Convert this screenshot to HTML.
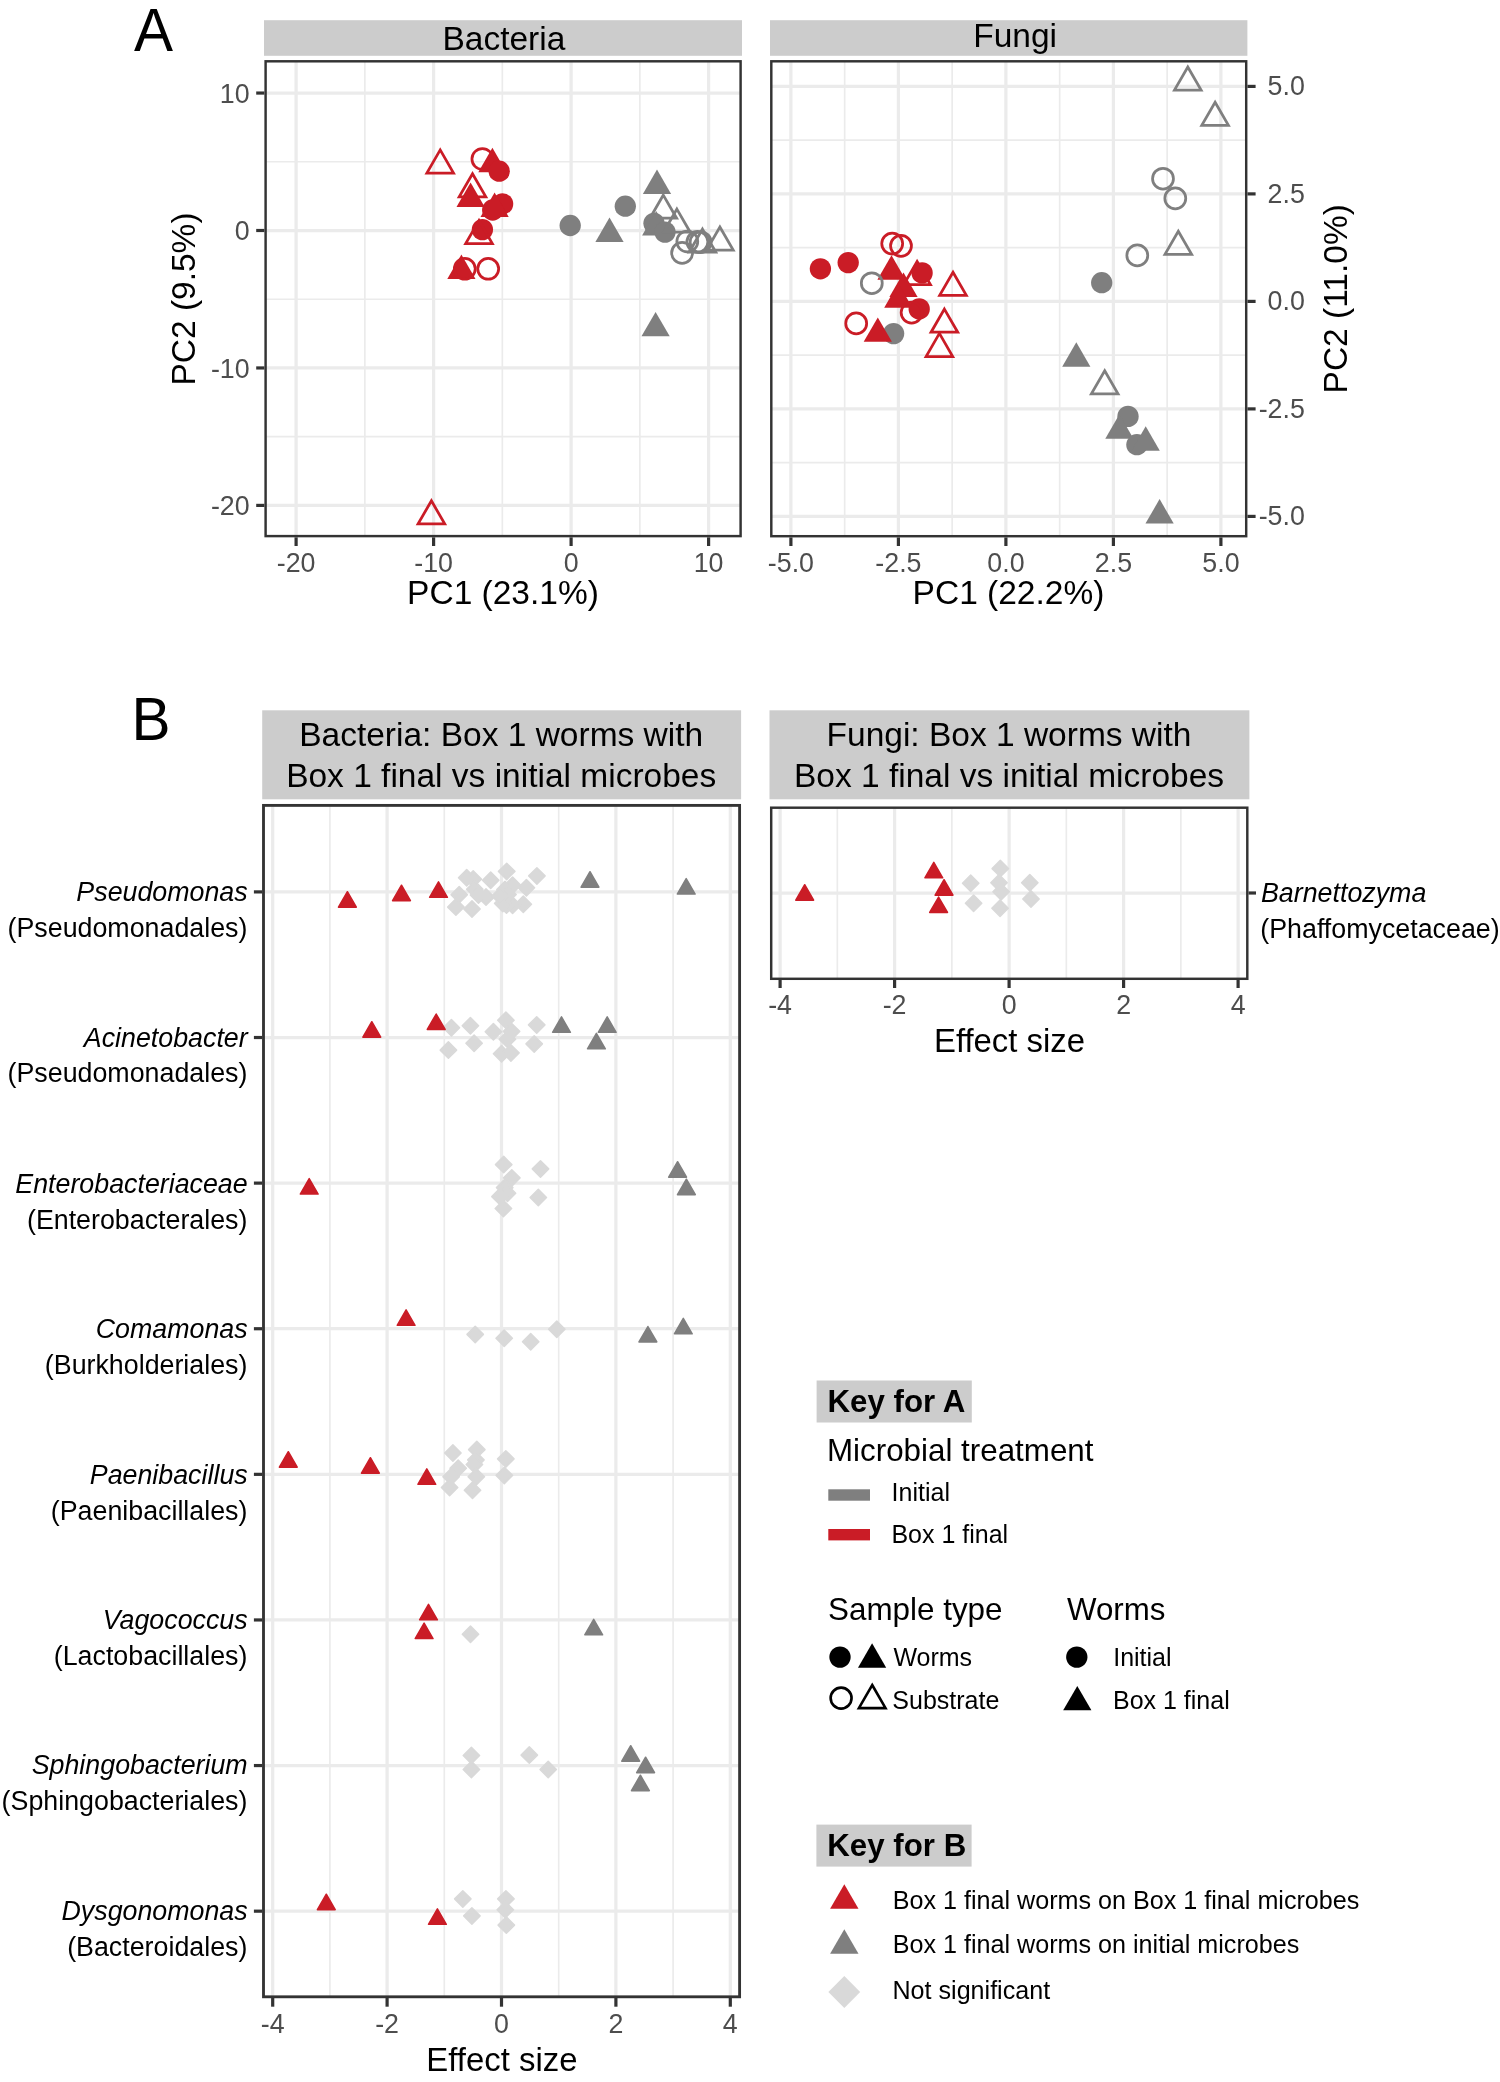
<!DOCTYPE html>
<html lang="en"><head><meta charset="utf-8"><title>Figure</title>
<style>
html,body{margin:0;padding:0;background:#fff;}
body{width:1500px;height:2082px;overflow:hidden;}
svg{display:block;will-change:transform;font-family:"Liberation Sans",sans-serif;}
</style></head><body>
<svg width="1500" height="2082" viewBox="0 0 1500 2082">
<rect width="1500" height="2082" fill="#fff"/>
<rect x="264" y="20.2" width="478" height="35.6" fill="#cccccc"/>
<text x="503.9" y="49.6" font-size="33.5" text-anchor="middle">Bacteria</text>
<line x1="364.85" y1="61.3" x2="364.85" y2="536.1" stroke="#ebebeb" stroke-width="1.65"/>
<line x1="502.35" y1="61.3" x2="502.35" y2="536.1" stroke="#ebebeb" stroke-width="1.65"/>
<line x1="639.85" y1="61.3" x2="639.85" y2="536.1" stroke="#ebebeb" stroke-width="1.65"/>
<line x1="265.6" y1="161.78" x2="740.6" y2="161.78" stroke="#ebebeb" stroke-width="1.65"/>
<line x1="265.6" y1="299.23" x2="740.6" y2="299.23" stroke="#ebebeb" stroke-width="1.65"/>
<line x1="265.6" y1="436.67" x2="740.6" y2="436.67" stroke="#ebebeb" stroke-width="1.65"/>
<line x1="296.1" y1="61.3" x2="296.1" y2="536.1" stroke="#ebebeb" stroke-width="3.25"/>
<line x1="433.6" y1="61.3" x2="433.6" y2="536.1" stroke="#ebebeb" stroke-width="3.25"/>
<line x1="571.1" y1="61.3" x2="571.1" y2="536.1" stroke="#ebebeb" stroke-width="3.25"/>
<line x1="708.6" y1="61.3" x2="708.6" y2="536.1" stroke="#ebebeb" stroke-width="3.25"/>
<line x1="265.6" y1="93.05" x2="740.6" y2="93.05" stroke="#ebebeb" stroke-width="3.25"/>
<line x1="265.6" y1="230.5" x2="740.6" y2="230.5" stroke="#ebebeb" stroke-width="3.25"/>
<line x1="265.6" y1="367.95" x2="740.6" y2="367.95" stroke="#ebebeb" stroke-width="3.25"/>
<line x1="265.6" y1="505.4" x2="740.6" y2="505.4" stroke="#ebebeb" stroke-width="3.25"/>
<circle cx="570.2" cy="225.5" r="10.65" fill="#7f7f7f"/>
<polygon points="609.5,217.6 623.62,242.05 595.38,242.05" fill="#7f7f7f"/>
<circle cx="625.3" cy="206.2" r="10.65" fill="#7f7f7f"/>
<polygon points="657,169.6 671.12,194.05 642.88,194.05" fill="#7f7f7f"/>
<polygon points="663.3,195.1 676.64,218.2 649.96,218.2" fill="none" stroke="#7f7f7f" stroke-width="2.75" stroke-linejoin="miter" stroke-miterlimit="10"/>
<circle cx="654" cy="223.3" r="10.65" fill="#7f7f7f"/>
<polygon points="656.2,211.1 670.32,235.55 642.08,235.55" fill="#7f7f7f"/>
<circle cx="665" cy="232.1" r="10.65" fill="#7f7f7f"/>
<polygon points="676.9,209.1 690.24,232.2 663.56,232.2" fill="none" stroke="#7f7f7f" stroke-width="2.75" stroke-linejoin="miter" stroke-miterlimit="10"/>
<circle cx="682.1" cy="252.9" r="10.45" fill="none" stroke="#7f7f7f" stroke-width="2.75"/>
<circle cx="687.3" cy="241.5" r="10.45" fill="none" stroke="#7f7f7f" stroke-width="2.75"/>
<circle cx="697.4" cy="241.8" r="10.45" fill="none" stroke="#7f7f7f" stroke-width="2.75"/>
<circle cx="700.6" cy="242.2" r="10.45" fill="none" stroke="#7f7f7f" stroke-width="2.75"/>
<polygon points="702.5,229.1 715.84,252.2 689.16,252.2" fill="none" stroke="#7f7f7f" stroke-width="2.75" stroke-linejoin="miter" stroke-miterlimit="10"/>
<polygon points="719.9,227 733.24,250.1 706.56,250.1" fill="none" stroke="#7f7f7f" stroke-width="2.75" stroke-linejoin="miter" stroke-miterlimit="10"/>
<polygon points="655.6,311.9 669.72,336.35 641.48,336.35" fill="#7f7f7f"/>
<polygon points="440.2,149.9 453.54,173 426.86,173" fill="none" stroke="#ca1c26" stroke-width="2.75" stroke-linejoin="miter" stroke-miterlimit="10"/>
<circle cx="482.4" cy="159" r="10.45" fill="none" stroke="#ca1c26" stroke-width="2.75"/>
<polygon points="492.4,147.8 506.52,172.25 478.28,172.25" fill="#ca1c26"/>
<circle cx="499.2" cy="171.2" r="10.65" fill="#ca1c26"/>
<polygon points="472.5,173.75 485.84,196.85 459.16,196.85" fill="none" stroke="#ca1c26" stroke-width="2.75" stroke-linejoin="miter" stroke-miterlimit="10"/>
<polygon points="470.6,182.6 484.72,207.05 456.48,207.05" fill="#ca1c26"/>
<circle cx="502.6" cy="203.9" r="10.65" fill="#ca1c26"/>
<circle cx="492.7" cy="210" r="10.65" fill="#ca1c26"/>
<polygon points="494.6,192.6 508.72,217.05 480.48,217.05" fill="#ca1c26"/>
<circle cx="482.4" cy="229.6" r="10.65" fill="#ca1c26"/>
<polygon points="479,220.5 492.34,243.6 465.66,243.6" fill="none" stroke="#ca1c26" stroke-width="2.75" stroke-linejoin="miter" stroke-miterlimit="10"/>
<polygon points="461.4,254.6 475.52,279.05 447.28,279.05" fill="#ca1c26"/>
<circle cx="464.8" cy="268.8" r="10.45" fill="none" stroke="#ca1c26" stroke-width="2.75"/>
<circle cx="488.2" cy="268.8" r="10.45" fill="none" stroke="#ca1c26" stroke-width="2.75"/>
<polygon points="431.4,500.8 444.74,523.9 418.06,523.9" fill="none" stroke="#ca1c26" stroke-width="2.75" stroke-linejoin="miter" stroke-miterlimit="10"/>
<rect x="265.6" y="61.3" width="475" height="474.8" fill="none" stroke="#333333" stroke-width="2.45"/>
<line x1="296.1" y1="537.33" x2="296.1" y2="546" stroke="#333333" stroke-width="3.2"/>
<text transform="translate(296.1 572.4) scale(1 1.03)" font-size="26.8" text-anchor="middle" fill="#4d4d4d">-20</text>
<line x1="433.6" y1="537.33" x2="433.6" y2="546" stroke="#333333" stroke-width="3.2"/>
<text transform="translate(433.6 572.4) scale(1 1.03)" font-size="26.8" text-anchor="middle" fill="#4d4d4d">-10</text>
<line x1="571.1" y1="537.33" x2="571.1" y2="546" stroke="#333333" stroke-width="3.2"/>
<text transform="translate(571.1 572.4) scale(1 1.03)" font-size="26.8" text-anchor="middle" fill="#4d4d4d">0</text>
<line x1="708.6" y1="537.33" x2="708.6" y2="546" stroke="#333333" stroke-width="3.2"/>
<text transform="translate(708.6 572.4) scale(1 1.03)" font-size="26.8" text-anchor="middle" fill="#4d4d4d">10</text>
<line x1="256.2" y1="93.05" x2="264.38" y2="93.05" stroke="#333333" stroke-width="3.2"/>
<text transform="translate(249.6 102.65) scale(1 1.03)" font-size="26.8" text-anchor="end" fill="#4d4d4d">10</text>
<line x1="256.2" y1="230.5" x2="264.38" y2="230.5" stroke="#333333" stroke-width="3.2"/>
<text transform="translate(249.6 240.1) scale(1 1.03)" font-size="26.8" text-anchor="end" fill="#4d4d4d">0</text>
<line x1="256.2" y1="367.95" x2="264.38" y2="367.95" stroke="#333333" stroke-width="3.2"/>
<text transform="translate(249.6 377.55) scale(1 1.03)" font-size="26.8" text-anchor="end" fill="#4d4d4d">-10</text>
<line x1="256.2" y1="505.4" x2="264.38" y2="505.4" stroke="#333333" stroke-width="3.2"/>
<text transform="translate(249.6 515) scale(1 1.03)" font-size="26.8" text-anchor="end" fill="#4d4d4d">-20</text>
<text x="503" y="603.6" font-size="33.5" text-anchor="middle">PC1 (23.1%)</text>
<text x="195.2" y="299" font-size="33.5" text-anchor="middle" transform="rotate(-90 195.2 299)">PC2 (9.5%)</text>
<text transform="translate(134 50.7) scale(1 1.04)" font-size="58.5">A</text>
<rect x="770" y="20.2" width="477.4" height="35.6" fill="#cccccc"/>
<text x="1015.1" y="46.5" font-size="33.5" text-anchor="middle">Fungi</text>
<line x1="844.65" y1="61.3" x2="844.65" y2="536.2" stroke="#ebebeb" stroke-width="1.65"/>
<line x1="952.15" y1="61.3" x2="952.15" y2="536.2" stroke="#ebebeb" stroke-width="1.65"/>
<line x1="1059.65" y1="61.3" x2="1059.65" y2="536.2" stroke="#ebebeb" stroke-width="1.65"/>
<line x1="1167.15" y1="61.3" x2="1167.15" y2="536.2" stroke="#ebebeb" stroke-width="1.65"/>
<line x1="771.3" y1="140.15" x2="1246.2" y2="140.15" stroke="#ebebeb" stroke-width="1.65"/>
<line x1="771.3" y1="247.65" x2="1246.2" y2="247.65" stroke="#ebebeb" stroke-width="1.65"/>
<line x1="771.3" y1="355.15" x2="1246.2" y2="355.15" stroke="#ebebeb" stroke-width="1.65"/>
<line x1="771.3" y1="462.65" x2="1246.2" y2="462.65" stroke="#ebebeb" stroke-width="1.65"/>
<line x1="790.9" y1="61.3" x2="790.9" y2="536.2" stroke="#ebebeb" stroke-width="3.25"/>
<line x1="898.4" y1="61.3" x2="898.4" y2="536.2" stroke="#ebebeb" stroke-width="3.25"/>
<line x1="1005.9" y1="61.3" x2="1005.9" y2="536.2" stroke="#ebebeb" stroke-width="3.25"/>
<line x1="1113.4" y1="61.3" x2="1113.4" y2="536.2" stroke="#ebebeb" stroke-width="3.25"/>
<line x1="1220.9" y1="61.3" x2="1220.9" y2="536.2" stroke="#ebebeb" stroke-width="3.25"/>
<line x1="771.3" y1="86.4" x2="1246.2" y2="86.4" stroke="#ebebeb" stroke-width="3.25"/>
<line x1="771.3" y1="193.9" x2="1246.2" y2="193.9" stroke="#ebebeb" stroke-width="3.25"/>
<line x1="771.3" y1="301.4" x2="1246.2" y2="301.4" stroke="#ebebeb" stroke-width="3.25"/>
<line x1="771.3" y1="408.9" x2="1246.2" y2="408.9" stroke="#ebebeb" stroke-width="3.25"/>
<line x1="771.3" y1="516.4" x2="1246.2" y2="516.4" stroke="#ebebeb" stroke-width="3.25"/>
<polygon points="1187.8,67 1201.14,90.1 1174.46,90.1" fill="none" stroke="#7f7f7f" stroke-width="2.75" stroke-linejoin="miter" stroke-miterlimit="10"/>
<polygon points="1215.1,102.2 1228.44,125.3 1201.76,125.3" fill="none" stroke="#7f7f7f" stroke-width="2.75" stroke-linejoin="miter" stroke-miterlimit="10"/>
<circle cx="1163" cy="178.7" r="10.45" fill="none" stroke="#7f7f7f" stroke-width="2.75"/>
<circle cx="1175.3" cy="198.3" r="10.45" fill="none" stroke="#7f7f7f" stroke-width="2.75"/>
<polygon points="1178.3,231.3 1191.64,254.4 1164.96,254.4" fill="none" stroke="#7f7f7f" stroke-width="2.75" stroke-linejoin="miter" stroke-miterlimit="10"/>
<circle cx="1137.3" cy="255.4" r="10.45" fill="none" stroke="#7f7f7f" stroke-width="2.75"/>
<circle cx="1101.7" cy="282.7" r="10.65" fill="#7f7f7f"/>
<polygon points="1076.3,342.2 1090.42,366.65 1062.18,366.65" fill="#7f7f7f"/>
<polygon points="1104.7,370.8 1118.04,393.9 1091.36,393.9" fill="none" stroke="#7f7f7f" stroke-width="2.75" stroke-linejoin="miter" stroke-miterlimit="10"/>
<circle cx="1128" cy="416.4" r="10.65" fill="#7f7f7f"/>
<polygon points="1119.4,414.2 1133.52,438.65 1105.28,438.65" fill="#7f7f7f"/>
<circle cx="1136.9" cy="444.7" r="10.65" fill="#7f7f7f"/>
<polygon points="1145.7,426.2 1159.82,450.65 1131.58,450.65" fill="#7f7f7f"/>
<polygon points="1159.6,499.1 1173.72,523.55 1145.48,523.55" fill="#7f7f7f"/>
<circle cx="893.6" cy="333.6" r="10.65" fill="#7f7f7f"/>
<circle cx="820.4" cy="268.8" r="10.65" fill="#ca1c26"/>
<circle cx="848.2" cy="262.6" r="10.65" fill="#ca1c26"/>
<circle cx="892.2" cy="243.6" r="10.45" fill="none" stroke="#ca1c26" stroke-width="2.75"/>
<circle cx="901" cy="245.8" r="10.45" fill="none" stroke="#ca1c26" stroke-width="2.75"/>
<polygon points="891.5,255.2 905.62,279.65 877.38,279.65" fill="#ca1c26"/>
<polygon points="917.1,261.5 930.44,284.6 903.76,284.6" fill="none" stroke="#ca1c26" stroke-width="2.75" stroke-linejoin="miter" stroke-miterlimit="10"/>
<circle cx="922.1" cy="272.9" r="10.65" fill="#ca1c26"/>
<polygon points="903.5,272.5 917.62,296.95 889.38,296.95" fill="#ca1c26"/>
<polygon points="898.3,283.2 912.42,307.65 884.18,307.65" fill="#ca1c26"/>
<circle cx="919.2" cy="308.9" r="10.65" fill="#ca1c26"/>
<circle cx="911.6" cy="312.6" r="10.45" fill="none" stroke="#ca1c26" stroke-width="2.75"/>
<circle cx="856.2" cy="323.4" r="10.45" fill="none" stroke="#ca1c26" stroke-width="2.75"/>
<polygon points="877.8,317.4 891.92,341.85 863.68,341.85" fill="#ca1c26"/>
<polygon points="953,272.3 966.34,295.4 939.66,295.4" fill="none" stroke="#ca1c26" stroke-width="2.75" stroke-linejoin="miter" stroke-miterlimit="10"/>
<polygon points="944.4,309.1 957.74,332.2 931.06,332.2" fill="none" stroke="#ca1c26" stroke-width="2.75" stroke-linejoin="miter" stroke-miterlimit="10"/>
<polygon points="939.4,333.4 952.74,356.5 926.06,356.5" fill="none" stroke="#ca1c26" stroke-width="2.75" stroke-linejoin="miter" stroke-miterlimit="10"/>
<circle cx="871.8" cy="283.2" r="10.45" fill="none" stroke="#7f7f7f" stroke-width="2.75"/>
<rect x="771.3" y="61.3" width="474.9" height="474.9" fill="none" stroke="#333333" stroke-width="2.45"/>
<line x1="790.9" y1="537.43" x2="790.9" y2="546" stroke="#333333" stroke-width="3.2"/>
<text transform="translate(790.9 572.4) scale(1 1.03)" font-size="26.8" text-anchor="middle" fill="#4d4d4d">-5.0</text>
<line x1="898.4" y1="537.43" x2="898.4" y2="546" stroke="#333333" stroke-width="3.2"/>
<text transform="translate(898.4 572.4) scale(1 1.03)" font-size="26.8" text-anchor="middle" fill="#4d4d4d">-2.5</text>
<line x1="1005.9" y1="537.43" x2="1005.9" y2="546" stroke="#333333" stroke-width="3.2"/>
<text transform="translate(1005.9 572.4) scale(1 1.03)" font-size="26.8" text-anchor="middle" fill="#4d4d4d">0.0</text>
<line x1="1113.4" y1="537.43" x2="1113.4" y2="546" stroke="#333333" stroke-width="3.2"/>
<text transform="translate(1113.4 572.4) scale(1 1.03)" font-size="26.8" text-anchor="middle" fill="#4d4d4d">2.5</text>
<line x1="1220.9" y1="537.43" x2="1220.9" y2="546" stroke="#333333" stroke-width="3.2"/>
<text transform="translate(1220.9 572.4) scale(1 1.03)" font-size="26.8" text-anchor="middle" fill="#4d4d4d">5.0</text>
<line x1="1247.42" y1="86.4" x2="1255.6" y2="86.4" stroke="#333333" stroke-width="3.2"/>
<text transform="translate(1304.8 95.2) scale(1 1.03)" font-size="26.8" text-anchor="end" fill="#4d4d4d">5.0</text>
<line x1="1247.42" y1="193.9" x2="1255.6" y2="193.9" stroke="#333333" stroke-width="3.2"/>
<text transform="translate(1304.8 202.7) scale(1 1.03)" font-size="26.8" text-anchor="end" fill="#4d4d4d">2.5</text>
<line x1="1247.42" y1="301.4" x2="1255.6" y2="301.4" stroke="#333333" stroke-width="3.2"/>
<text transform="translate(1304.8 310.2) scale(1 1.03)" font-size="26.8" text-anchor="end" fill="#4d4d4d">0.0</text>
<line x1="1247.42" y1="408.9" x2="1255.6" y2="408.9" stroke="#333333" stroke-width="3.2"/>
<text transform="translate(1304.8 417.7) scale(1 1.03)" font-size="26.8" text-anchor="end" fill="#4d4d4d">-2.5</text>
<line x1="1247.42" y1="516.4" x2="1255.6" y2="516.4" stroke="#333333" stroke-width="3.2"/>
<text transform="translate(1304.8 525.2) scale(1 1.03)" font-size="26.8" text-anchor="end" fill="#4d4d4d">-5.0</text>
<text x="1008.5" y="603.6" font-size="33.5" text-anchor="middle">PC1 (22.2%)</text>
<text x="1347" y="298.8" font-size="33.5" text-anchor="middle" transform="rotate(-90 1347 298.8)">PC2 (11.0%)</text>
<rect x="262.2" y="710.3" width="478.9" height="89" fill="#cccccc"/>
<text x="501.2" y="745.9" font-size="33.5" text-anchor="middle">Bacteria: Box 1 worms with</text>
<text x="501.2" y="787" font-size="33.5" text-anchor="middle">Box 1 final vs initial microbes</text>
<line x1="329.9" y1="805.4" x2="329.9" y2="1996.8" stroke="#ebebeb" stroke-width="1.65"/>
<line x1="444.3" y1="805.4" x2="444.3" y2="1996.8" stroke="#ebebeb" stroke-width="1.65"/>
<line x1="558.7" y1="805.4" x2="558.7" y2="1996.8" stroke="#ebebeb" stroke-width="1.65"/>
<line x1="673.1" y1="805.4" x2="673.1" y2="1996.8" stroke="#ebebeb" stroke-width="1.65"/>
<line x1="272.7" y1="805.4" x2="272.7" y2="1996.8" stroke="#ebebeb" stroke-width="3.25"/>
<line x1="387.1" y1="805.4" x2="387.1" y2="1996.8" stroke="#ebebeb" stroke-width="3.25"/>
<line x1="501.5" y1="805.4" x2="501.5" y2="1996.8" stroke="#ebebeb" stroke-width="3.25"/>
<line x1="615.9" y1="805.4" x2="615.9" y2="1996.8" stroke="#ebebeb" stroke-width="3.25"/>
<line x1="730.3" y1="805.4" x2="730.3" y2="1996.8" stroke="#ebebeb" stroke-width="3.25"/>
<line x1="263.5" y1="891.9" x2="739.6" y2="891.9" stroke="#ebebeb" stroke-width="3.25"/>
<line x1="263.5" y1="1037.51" x2="739.6" y2="1037.51" stroke="#ebebeb" stroke-width="3.25"/>
<line x1="263.5" y1="1183.12" x2="739.6" y2="1183.12" stroke="#ebebeb" stroke-width="3.25"/>
<line x1="263.5" y1="1328.73" x2="739.6" y2="1328.73" stroke="#ebebeb" stroke-width="3.25"/>
<line x1="263.5" y1="1474.34" x2="739.6" y2="1474.34" stroke="#ebebeb" stroke-width="3.25"/>
<line x1="263.5" y1="1619.95" x2="739.6" y2="1619.95" stroke="#ebebeb" stroke-width="3.25"/>
<line x1="263.5" y1="1765.56" x2="739.6" y2="1765.56" stroke="#ebebeb" stroke-width="3.25"/>
<line x1="263.5" y1="1911.17" x2="739.6" y2="1911.17" stroke="#ebebeb" stroke-width="3.25"/>
<polygon points="466.7,869.5 474.9,877.7 466.7,885.9 458.5,877.7" fill="#d9d9d9" stroke="#d9d9d9" stroke-width="1.5" stroke-linejoin="round"/>
<polygon points="473.2,870.9 481.4,879.1 473.2,887.3 465,879.1" fill="#d9d9d9" stroke="#d9d9d9" stroke-width="1.5" stroke-linejoin="round"/>
<polygon points="490.7,872.1 498.9,880.3 490.7,888.5 482.5,880.3" fill="#d9d9d9" stroke="#d9d9d9" stroke-width="1.5" stroke-linejoin="round"/>
<polygon points="506.7,863.2 514.9,871.4 506.7,879.6 498.5,871.4" fill="#d9d9d9" stroke="#d9d9d9" stroke-width="1.5" stroke-linejoin="round"/>
<polygon points="536.9,867.7 545.1,875.9 536.9,884.1 528.7,875.9" fill="#d9d9d9" stroke="#d9d9d9" stroke-width="1.5" stroke-linejoin="round"/>
<polygon points="526.4,879.6 534.6,887.8 526.4,896 518.2,887.8" fill="#d9d9d9" stroke="#d9d9d9" stroke-width="1.5" stroke-linejoin="round"/>
<polygon points="512.6,877 520.8,885.2 512.6,893.4 504.4,885.2" fill="#d9d9d9" stroke="#d9d9d9" stroke-width="1.5" stroke-linejoin="round"/>
<polygon points="459.2,886.6 467.4,894.8 459.2,903 451,894.8" fill="#d9d9d9" stroke="#d9d9d9" stroke-width="1.5" stroke-linejoin="round"/>
<polygon points="455.9,898.9 464.1,907.1 455.9,915.3 447.7,907.1" fill="#d9d9d9" stroke="#d9d9d9" stroke-width="1.5" stroke-linejoin="round"/>
<polygon points="472,900.8 480.2,909 472,917.2 463.8,909" fill="#d9d9d9" stroke="#d9d9d9" stroke-width="1.5" stroke-linejoin="round"/>
<polygon points="486,888.9 494.2,897.1 486,905.3 477.8,897.1" fill="#d9d9d9" stroke="#d9d9d9" stroke-width="1.5" stroke-linejoin="round"/>
<polygon points="523.3,896.1 531.5,904.3 523.3,912.5 515.1,904.3" fill="#d9d9d9" stroke="#d9d9d9" stroke-width="1.5" stroke-linejoin="round"/>
<polygon points="512.6,897.1 520.8,905.3 512.6,913.5 504.4,905.3" fill="#d9d9d9" stroke="#d9d9d9" stroke-width="1.5" stroke-linejoin="round"/>
<polygon points="506.5,896.9 514.7,905.1 506.5,913.3 498.3,905.1" fill="#d9d9d9" stroke="#d9d9d9" stroke-width="1.5" stroke-linejoin="round"/>
<polygon points="502.8,895.2 511,903.4 502.8,911.6 494.6,903.4" fill="#d9d9d9" stroke="#d9d9d9" stroke-width="1.5" stroke-linejoin="round"/>
<polygon points="474.8,881 483,889.2 474.8,897.4 466.6,889.2" fill="#d9d9d9" stroke="#d9d9d9" stroke-width="1.5" stroke-linejoin="round"/>
<polygon points="478.5,886.8 486.7,895 478.5,903.2 470.3,895" fill="#d9d9d9" stroke="#d9d9d9" stroke-width="1.5" stroke-linejoin="round"/>
<polygon points="505,881.3 513.2,889.5 505,897.7 496.8,889.5" fill="#d9d9d9" stroke="#d9d9d9" stroke-width="1.5" stroke-linejoin="round"/>
<polygon points="508,886.3 516.2,894.5 508,902.7 499.8,894.5" fill="#d9d9d9" stroke="#d9d9d9" stroke-width="1.5" stroke-linejoin="round"/>
<polygon points="500,887.8 508.2,896 500,904.2 491.8,896" fill="#d9d9d9" stroke="#d9d9d9" stroke-width="1.5" stroke-linejoin="round"/>
<polygon points="451.4,1019.5 459.6,1027.7 451.4,1035.9 443.2,1027.7" fill="#d9d9d9" stroke="#d9d9d9" stroke-width="1.5" stroke-linejoin="round"/>
<polygon points="470.4,1017.6 478.6,1025.8 470.4,1034 462.2,1025.8" fill="#d9d9d9" stroke="#d9d9d9" stroke-width="1.5" stroke-linejoin="round"/>
<polygon points="448.4,1041.9 456.6,1050.1 448.4,1058.3 440.2,1050.1" fill="#d9d9d9" stroke="#d9d9d9" stroke-width="1.5" stroke-linejoin="round"/>
<polygon points="474.1,1035 482.3,1043.2 474.1,1051.4 465.9,1043.2" fill="#d9d9d9" stroke="#d9d9d9" stroke-width="1.5" stroke-linejoin="round"/>
<polygon points="493.4,1023.6 501.6,1031.8 493.4,1040 485.2,1031.8" fill="#d9d9d9" stroke="#d9d9d9" stroke-width="1.5" stroke-linejoin="round"/>
<polygon points="505.9,1012 514.1,1020.2 505.9,1028.4 497.7,1020.2" fill="#d9d9d9" stroke="#d9d9d9" stroke-width="1.5" stroke-linejoin="round"/>
<polygon points="511.5,1023.2 519.7,1031.4 511.5,1039.6 503.3,1031.4" fill="#d9d9d9" stroke="#d9d9d9" stroke-width="1.5" stroke-linejoin="round"/>
<polygon points="507.4,1031 515.6,1039.2 507.4,1047.4 499.2,1039.2" fill="#d9d9d9" stroke="#d9d9d9" stroke-width="1.5" stroke-linejoin="round"/>
<polygon points="501.6,1045.6 509.8,1053.8 501.6,1062 493.4,1053.8" fill="#d9d9d9" stroke="#d9d9d9" stroke-width="1.5" stroke-linejoin="round"/>
<polygon points="510.9,1044.7 519.1,1052.9 510.9,1061.1 502.7,1052.9" fill="#d9d9d9" stroke="#d9d9d9" stroke-width="1.5" stroke-linejoin="round"/>
<polygon points="536.7,1016.7 544.9,1024.9 536.7,1033.1 528.5,1024.9" fill="#d9d9d9" stroke="#d9d9d9" stroke-width="1.5" stroke-linejoin="round"/>
<polygon points="534.2,1035.7 542.4,1043.9 534.2,1052.1 526,1043.9" fill="#d9d9d9" stroke="#d9d9d9" stroke-width="1.5" stroke-linejoin="round"/>
<polygon points="503.7,1156.4 511.9,1164.6 503.7,1172.8 495.5,1164.6" fill="#d9d9d9" stroke="#d9d9d9" stroke-width="1.5" stroke-linejoin="round"/>
<polygon points="511.8,1169.7 520,1177.9 511.8,1186.1 503.6,1177.9" fill="#d9d9d9" stroke="#d9d9d9" stroke-width="1.5" stroke-linejoin="round"/>
<polygon points="504.7,1179.4 512.9,1187.6 504.7,1195.8 496.5,1187.6" fill="#d9d9d9" stroke="#d9d9d9" stroke-width="1.5" stroke-linejoin="round"/>
<polygon points="507.5,1185 515.7,1193.2 507.5,1201.4 499.3,1193.2" fill="#d9d9d9" stroke="#d9d9d9" stroke-width="1.5" stroke-linejoin="round"/>
<polygon points="500,1188.4 508.2,1196.6 500,1204.8 491.8,1196.6" fill="#d9d9d9" stroke="#d9d9d9" stroke-width="1.5" stroke-linejoin="round"/>
<polygon points="503.4,1200.3 511.6,1208.5 503.4,1216.7 495.2,1208.5" fill="#d9d9d9" stroke="#d9d9d9" stroke-width="1.5" stroke-linejoin="round"/>
<polygon points="540.5,1160.7 548.7,1168.9 540.5,1177.1 532.3,1168.9" fill="#d9d9d9" stroke="#d9d9d9" stroke-width="1.5" stroke-linejoin="round"/>
<polygon points="538.3,1189.3 546.5,1197.5 538.3,1205.7 530.1,1197.5" fill="#d9d9d9" stroke="#d9d9d9" stroke-width="1.5" stroke-linejoin="round"/>
<polygon points="475.2,1326.2 483.4,1334.4 475.2,1342.6 467,1334.4" fill="#d9d9d9" stroke="#d9d9d9" stroke-width="1.5" stroke-linejoin="round"/>
<polygon points="504.2,1330.1 512.4,1338.3 504.2,1346.5 496,1338.3" fill="#d9d9d9" stroke="#d9d9d9" stroke-width="1.5" stroke-linejoin="round"/>
<polygon points="530.7,1333.5 538.9,1341.7 530.7,1349.9 522.5,1341.7" fill="#d9d9d9" stroke="#d9d9d9" stroke-width="1.5" stroke-linejoin="round"/>
<polygon points="556.8,1321 565,1329.2 556.8,1337.4 548.6,1329.2" fill="#d9d9d9" stroke="#d9d9d9" stroke-width="1.5" stroke-linejoin="round"/>
<polygon points="452.9,1444.8 461.1,1453 452.9,1461.2 444.7,1453" fill="#d9d9d9" stroke="#d9d9d9" stroke-width="1.5" stroke-linejoin="round"/>
<polygon points="476.8,1441.4 485,1449.6 476.8,1457.8 468.6,1449.6" fill="#d9d9d9" stroke="#d9d9d9" stroke-width="1.5" stroke-linejoin="round"/>
<polygon points="475.9,1451.7 484.1,1459.9 475.9,1468.1 467.7,1459.9" fill="#d9d9d9" stroke="#d9d9d9" stroke-width="1.5" stroke-linejoin="round"/>
<polygon points="474.4,1456.3 482.6,1464.5 474.4,1472.7 466.2,1464.5" fill="#d9d9d9" stroke="#d9d9d9" stroke-width="1.5" stroke-linejoin="round"/>
<polygon points="458.2,1460.1 466.4,1468.3 458.2,1476.5 450,1468.3" fill="#d9d9d9" stroke="#d9d9d9" stroke-width="1.5" stroke-linejoin="round"/>
<polygon points="451.1,1468.5 459.3,1476.7 451.1,1484.9 442.9,1476.7" fill="#d9d9d9" stroke="#d9d9d9" stroke-width="1.5" stroke-linejoin="round"/>
<polygon points="449.6,1479.3 457.8,1487.5 449.6,1495.7 441.4,1487.5" fill="#d9d9d9" stroke="#d9d9d9" stroke-width="1.5" stroke-linejoin="round"/>
<polygon points="476.3,1468.5 484.5,1476.7 476.3,1484.9 468.1,1476.7" fill="#d9d9d9" stroke="#d9d9d9" stroke-width="1.5" stroke-linejoin="round"/>
<polygon points="472.5,1482.1 480.7,1490.3 472.5,1498.5 464.3,1490.3" fill="#d9d9d9" stroke="#d9d9d9" stroke-width="1.5" stroke-linejoin="round"/>
<polygon points="505.8,1450.7 514,1458.9 505.8,1467.1 497.6,1458.9" fill="#d9d9d9" stroke="#d9d9d9" stroke-width="1.5" stroke-linejoin="round"/>
<polygon points="504.3,1467.2 512.5,1475.4 504.3,1483.6 496.1,1475.4" fill="#d9d9d9" stroke="#d9d9d9" stroke-width="1.5" stroke-linejoin="round"/>
<polygon points="470.5,1626 478.7,1634.2 470.5,1642.4 462.3,1634.2" fill="#d9d9d9" stroke="#d9d9d9" stroke-width="1.5" stroke-linejoin="round"/>
<polygon points="471.4,1747.3 479.6,1755.5 471.4,1763.7 463.2,1755.5" fill="#d9d9d9" stroke="#d9d9d9" stroke-width="1.5" stroke-linejoin="round"/>
<polygon points="471.4,1761.3 479.6,1769.5 471.4,1777.7 463.2,1769.5" fill="#d9d9d9" stroke="#d9d9d9" stroke-width="1.5" stroke-linejoin="round"/>
<polygon points="529.3,1746.9 537.5,1755.1 529.3,1763.3 521.1,1755.1" fill="#d9d9d9" stroke="#d9d9d9" stroke-width="1.5" stroke-linejoin="round"/>
<polygon points="548.2,1761.3 556.4,1769.5 548.2,1777.7 540,1769.5" fill="#d9d9d9" stroke="#d9d9d9" stroke-width="1.5" stroke-linejoin="round"/>
<polygon points="462.8,1890.7 471,1898.9 462.8,1907.1 454.6,1898.9" fill="#d9d9d9" stroke="#d9d9d9" stroke-width="1.5" stroke-linejoin="round"/>
<polygon points="471.9,1907.7 480.1,1915.9 471.9,1924.1 463.7,1915.9" fill="#d9d9d9" stroke="#d9d9d9" stroke-width="1.5" stroke-linejoin="round"/>
<polygon points="505.9,1890.7 514.1,1898.9 505.9,1907.1 497.7,1898.9" fill="#d9d9d9" stroke="#d9d9d9" stroke-width="1.5" stroke-linejoin="round"/>
<polygon points="505.3,1901.6 513.5,1909.8 505.3,1918 497.1,1909.8" fill="#d9d9d9" stroke="#d9d9d9" stroke-width="1.5" stroke-linejoin="round"/>
<polygon points="506.3,1916.9 514.5,1925.1 506.3,1933.3 498.1,1925.1" fill="#d9d9d9" stroke="#d9d9d9" stroke-width="1.5" stroke-linejoin="round"/>
<polygon points="590,871.7 598.92,887.15 581.08,887.15" fill="#7f7f7f" stroke="#7f7f7f" stroke-width="1.5" stroke-linejoin="round"/>
<polygon points="686.2,878.6 695.12,894.05 677.28,894.05" fill="#7f7f7f" stroke="#7f7f7f" stroke-width="1.5" stroke-linejoin="round"/>
<polygon points="561.5,1016.8 570.42,1032.25 552.58,1032.25" fill="#7f7f7f" stroke="#7f7f7f" stroke-width="1.5" stroke-linejoin="round"/>
<polygon points="607.2,1016.8 616.12,1032.25 598.28,1032.25" fill="#7f7f7f" stroke="#7f7f7f" stroke-width="1.5" stroke-linejoin="round"/>
<polygon points="596.4,1033.4 605.32,1048.85 587.48,1048.85" fill="#7f7f7f" stroke="#7f7f7f" stroke-width="1.5" stroke-linejoin="round"/>
<polygon points="677.6,1161.7 686.52,1177.15 668.68,1177.15" fill="#7f7f7f" stroke="#7f7f7f" stroke-width="1.5" stroke-linejoin="round"/>
<polygon points="686.4,1179.2 695.32,1194.65 677.48,1194.65" fill="#7f7f7f" stroke="#7f7f7f" stroke-width="1.5" stroke-linejoin="round"/>
<polygon points="647.9,1326.5 656.82,1341.95 638.98,1341.95" fill="#7f7f7f" stroke="#7f7f7f" stroke-width="1.5" stroke-linejoin="round"/>
<polygon points="683.3,1318.4 692.22,1333.85 674.38,1333.85" fill="#7f7f7f" stroke="#7f7f7f" stroke-width="1.5" stroke-linejoin="round"/>
<polygon points="593.7,1619.4 602.62,1634.85 584.78,1634.85" fill="#7f7f7f" stroke="#7f7f7f" stroke-width="1.5" stroke-linejoin="round"/>
<polygon points="630.7,1745.7 639.62,1761.15 621.78,1761.15" fill="#7f7f7f" stroke="#7f7f7f" stroke-width="1.5" stroke-linejoin="round"/>
<polygon points="645.6,1757.2 654.52,1772.65 636.68,1772.65" fill="#7f7f7f" stroke="#7f7f7f" stroke-width="1.5" stroke-linejoin="round"/>
<polygon points="640.4,1775.2 649.32,1790.65 631.48,1790.65" fill="#7f7f7f" stroke="#7f7f7f" stroke-width="1.5" stroke-linejoin="round"/>
<polygon points="347.4,891.7 356.32,907.15 338.48,907.15" fill="#ca1c26" stroke="#ca1c26" stroke-width="1.5" stroke-linejoin="round"/>
<polygon points="401.5,885.2 410.42,900.65 392.58,900.65" fill="#ca1c26" stroke="#ca1c26" stroke-width="1.5" stroke-linejoin="round"/>
<polygon points="438.5,881.9 447.42,897.35 429.58,897.35" fill="#ca1c26" stroke="#ca1c26" stroke-width="1.5" stroke-linejoin="round"/>
<polygon points="371.8,1021.7 380.72,1037.15 362.88,1037.15" fill="#ca1c26" stroke="#ca1c26" stroke-width="1.5" stroke-linejoin="round"/>
<polygon points="436.2,1014 445.12,1029.45 427.28,1029.45" fill="#ca1c26" stroke="#ca1c26" stroke-width="1.5" stroke-linejoin="round"/>
<polygon points="309.2,1178.6 318.12,1194.05 300.28,1194.05" fill="#ca1c26" stroke="#ca1c26" stroke-width="1.5" stroke-linejoin="round"/>
<polygon points="406.1,1309.9 415.02,1325.35 397.18,1325.35" fill="#ca1c26" stroke="#ca1c26" stroke-width="1.5" stroke-linejoin="round"/>
<polygon points="288.3,1451.7 297.22,1467.15 279.38,1467.15" fill="#ca1c26" stroke="#ca1c26" stroke-width="1.5" stroke-linejoin="round"/>
<polygon points="370.4,1457.7 379.32,1473.15 361.48,1473.15" fill="#ca1c26" stroke="#ca1c26" stroke-width="1.5" stroke-linejoin="round"/>
<polygon points="426.8,1468.9 435.72,1484.35 417.88,1484.35" fill="#ca1c26" stroke="#ca1c26" stroke-width="1.5" stroke-linejoin="round"/>
<polygon points="428.5,1604.4 437.42,1619.85 419.58,1619.85" fill="#ca1c26" stroke="#ca1c26" stroke-width="1.5" stroke-linejoin="round"/>
<polygon points="424.1,1623.1 433.02,1638.55 415.18,1638.55" fill="#ca1c26" stroke="#ca1c26" stroke-width="1.5" stroke-linejoin="round"/>
<polygon points="326.3,1894.2 335.22,1909.65 317.38,1909.65" fill="#ca1c26" stroke="#ca1c26" stroke-width="1.5" stroke-linejoin="round"/>
<polygon points="437.4,1908.9 446.32,1924.35 428.48,1924.35" fill="#ca1c26" stroke="#ca1c26" stroke-width="1.5" stroke-linejoin="round"/>
<rect x="263.5" y="805.4" width="476.1" height="1191.4" fill="none" stroke="#333333" stroke-width="2.85"/>
<line x1="272.7" y1="1998.02" x2="272.7" y2="2006.7" stroke="#333333" stroke-width="3.2"/>
<text transform="translate(272.7 2032.5) scale(1 1.03)" font-size="26.8" text-anchor="middle" fill="#4d4d4d">-4</text>
<line x1="387.1" y1="1998.02" x2="387.1" y2="2006.7" stroke="#333333" stroke-width="3.2"/>
<text transform="translate(387.1 2032.5) scale(1 1.03)" font-size="26.8" text-anchor="middle" fill="#4d4d4d">-2</text>
<line x1="501.5" y1="1998.02" x2="501.5" y2="2006.7" stroke="#333333" stroke-width="3.2"/>
<text transform="translate(501.5 2032.5) scale(1 1.03)" font-size="26.8" text-anchor="middle" fill="#4d4d4d">0</text>
<line x1="615.9" y1="1998.02" x2="615.9" y2="2006.7" stroke="#333333" stroke-width="3.2"/>
<text transform="translate(615.9 2032.5) scale(1 1.03)" font-size="26.8" text-anchor="middle" fill="#4d4d4d">2</text>
<line x1="730.3" y1="1998.02" x2="730.3" y2="2006.7" stroke="#333333" stroke-width="3.2"/>
<text transform="translate(730.3 2032.5) scale(1 1.03)" font-size="26.8" text-anchor="middle" fill="#4d4d4d">4</text>
<line x1="253.9" y1="891.9" x2="262.1" y2="891.9" stroke="#333333" stroke-width="3.2"/>
<text x="247.7" y="901.3" font-size="26.8" text-anchor="end" font-style="italic">Pseudomonas</text>
<text x="247.4" y="937.3" font-size="26.8" text-anchor="end">(Pseudomonadales)</text>
<line x1="253.9" y1="1037.51" x2="262.1" y2="1037.51" stroke="#333333" stroke-width="3.2"/>
<text x="247.7" y="1046.81" font-size="26.8" text-anchor="end" font-style="italic">Acinetobacter</text>
<text x="247.4" y="1082.41" font-size="26.8" text-anchor="end">(Pseudomonadales)</text>
<line x1="253.9" y1="1183.12" x2="262.1" y2="1183.12" stroke="#333333" stroke-width="3.2"/>
<text x="247.7" y="1192.52" font-size="26.8" text-anchor="end" font-style="italic">Enterobacteriaceae</text>
<text x="247.4" y="1228.52" font-size="26.8" text-anchor="end">(Enterobacterales)</text>
<line x1="253.9" y1="1328.73" x2="262.1" y2="1328.73" stroke="#333333" stroke-width="3.2"/>
<text x="247.7" y="1338.13" font-size="26.8" text-anchor="end" font-style="italic">Comamonas</text>
<text x="247.4" y="1374.13" font-size="26.8" text-anchor="end">(Burkholderiales)</text>
<line x1="253.9" y1="1474.34" x2="262.1" y2="1474.34" stroke="#333333" stroke-width="3.2"/>
<text x="247.7" y="1483.74" font-size="26.8" text-anchor="end" font-style="italic">Paenibacillus</text>
<text x="247.4" y="1519.74" font-size="26.8" text-anchor="end">(Paenibacillales)</text>
<line x1="253.9" y1="1619.95" x2="262.1" y2="1619.95" stroke="#333333" stroke-width="3.2"/>
<text x="247.7" y="1629.15" font-size="26.8" text-anchor="end" font-style="italic">Vagococcus</text>
<text x="247.4" y="1665.15" font-size="26.8" text-anchor="end">(Lactobacillales)</text>
<line x1="253.9" y1="1765.56" x2="262.1" y2="1765.56" stroke="#333333" stroke-width="3.2"/>
<text x="247.7" y="1774.26" font-size="26.8" text-anchor="end" font-style="italic">Sphingobacterium</text>
<text x="247.4" y="1809.76" font-size="26.8" text-anchor="end">(Sphingobacteriales)</text>
<line x1="253.9" y1="1911.17" x2="262.1" y2="1911.17" stroke="#333333" stroke-width="3.2"/>
<text x="247.7" y="1919.97" font-size="26.8" text-anchor="end" font-style="italic">Dysgonomonas</text>
<text x="247.4" y="1955.67" font-size="26.8" text-anchor="end">(Bacteroidales)</text>
<text x="501.9" y="2070.7" font-size="32.9" text-anchor="middle">Effect size</text>
<text transform="translate(131.5 740.4) scale(1 1.04)" font-size="58.5">B</text>
<rect x="769.5" y="710.3" width="479.9" height="89" fill="#cccccc"/>
<text x="1009" y="745.9" font-size="33.5" text-anchor="middle">Fungi: Box 1 worms with</text>
<text x="1009" y="787" font-size="33.5" text-anchor="middle">Box 1 final vs initial microbes</text>
<line x1="837.35" y1="807.7" x2="837.35" y2="978.8" stroke="#ebebeb" stroke-width="1.65"/>
<line x1="951.85" y1="807.7" x2="951.85" y2="978.8" stroke="#ebebeb" stroke-width="1.65"/>
<line x1="1066.35" y1="807.7" x2="1066.35" y2="978.8" stroke="#ebebeb" stroke-width="1.65"/>
<line x1="1180.85" y1="807.7" x2="1180.85" y2="978.8" stroke="#ebebeb" stroke-width="1.65"/>
<line x1="780.1" y1="807.7" x2="780.1" y2="978.8" stroke="#ebebeb" stroke-width="3.25"/>
<line x1="894.6" y1="807.7" x2="894.6" y2="978.8" stroke="#ebebeb" stroke-width="3.25"/>
<line x1="1009.1" y1="807.7" x2="1009.1" y2="978.8" stroke="#ebebeb" stroke-width="3.25"/>
<line x1="1123.6" y1="807.7" x2="1123.6" y2="978.8" stroke="#ebebeb" stroke-width="3.25"/>
<line x1="1238.1" y1="807.7" x2="1238.1" y2="978.8" stroke="#ebebeb" stroke-width="3.25"/>
<line x1="771.2" y1="893" x2="1247.3" y2="893" stroke="#ebebeb" stroke-width="3.25"/>
<polygon points="970.7,875 978.9,883.2 970.7,891.4 962.5,883.2" fill="#d9d9d9" stroke="#d9d9d9" stroke-width="1.5" stroke-linejoin="round"/>
<polygon points="973.6,895.1 981.8,903.3 973.6,911.5 965.4,903.3" fill="#d9d9d9" stroke="#d9d9d9" stroke-width="1.5" stroke-linejoin="round"/>
<polygon points="1000.3,860.4 1008.5,868.6 1000.3,876.8 992.1,868.6" fill="#d9d9d9" stroke="#d9d9d9" stroke-width="1.5" stroke-linejoin="round"/>
<polygon points="999,874.5 1007.2,882.7 999,890.9 990.8,882.7" fill="#d9d9d9" stroke="#d9d9d9" stroke-width="1.5" stroke-linejoin="round"/>
<polygon points="1001.1,883.5 1009.3,891.7 1001.1,899.9 992.9,891.7" fill="#d9d9d9" stroke="#d9d9d9" stroke-width="1.5" stroke-linejoin="round"/>
<polygon points="1000.05,900.1 1008.25,908.3 1000.05,916.5 991.85,908.3" fill="#d9d9d9" stroke="#d9d9d9" stroke-width="1.5" stroke-linejoin="round"/>
<polygon points="1029.8,874.5 1038,882.7 1029.8,890.9 1021.6,882.7" fill="#d9d9d9" stroke="#d9d9d9" stroke-width="1.5" stroke-linejoin="round"/>
<polygon points="1031,890.8 1039.2,899 1031,907.2 1022.8,899" fill="#d9d9d9" stroke="#d9d9d9" stroke-width="1.5" stroke-linejoin="round"/>
<polygon points="804.7,884.7 813.62,900.15 795.78,900.15" fill="#ca1c26" stroke="#ca1c26" stroke-width="1.5" stroke-linejoin="round"/>
<polygon points="933.8,862.4 942.72,877.85 924.88,877.85" fill="#ca1c26" stroke="#ca1c26" stroke-width="1.5" stroke-linejoin="round"/>
<polygon points="944.05,879.7 952.97,895.15 935.13,895.15" fill="#ca1c26" stroke="#ca1c26" stroke-width="1.5" stroke-linejoin="round"/>
<polygon points="938.6,897 947.52,912.45 929.68,912.45" fill="#ca1c26" stroke="#ca1c26" stroke-width="1.5" stroke-linejoin="round"/>
<rect x="771.2" y="807.7" width="476.1" height="171.1" fill="none" stroke="#333333" stroke-width="2.45"/>
<line x1="780.1" y1="980.02" x2="780.1" y2="988" stroke="#333333" stroke-width="3.2"/>
<text transform="translate(780.1 1014.3) scale(1 1.03)" font-size="26.8" text-anchor="middle" fill="#4d4d4d">-4</text>
<line x1="894.6" y1="980.02" x2="894.6" y2="988" stroke="#333333" stroke-width="3.2"/>
<text transform="translate(894.6 1014.3) scale(1 1.03)" font-size="26.8" text-anchor="middle" fill="#4d4d4d">-2</text>
<line x1="1009.1" y1="980.02" x2="1009.1" y2="988" stroke="#333333" stroke-width="3.2"/>
<text transform="translate(1009.1 1014.3) scale(1 1.03)" font-size="26.8" text-anchor="middle" fill="#4d4d4d">0</text>
<line x1="1123.6" y1="980.02" x2="1123.6" y2="988" stroke="#333333" stroke-width="3.2"/>
<text transform="translate(1123.6 1014.3) scale(1 1.03)" font-size="26.8" text-anchor="middle" fill="#4d4d4d">2</text>
<line x1="1238.1" y1="980.02" x2="1238.1" y2="988" stroke="#333333" stroke-width="3.2"/>
<text transform="translate(1238.1 1014.3) scale(1 1.03)" font-size="26.8" text-anchor="middle" fill="#4d4d4d">4</text>
<line x1="1248.52" y1="893" x2="1256" y2="893" stroke="#333333" stroke-width="3.2"/>
<text x="1261" y="902.4" font-size="26.8" font-style="italic">Barnettozyma</text>
<text x="1260.3" y="937.5" font-size="26.8">(Phaffomycetaceae)</text>
<text x="1009.5" y="1052.1" font-size="32.9" text-anchor="middle">Effect size</text>
<rect x="816.6" y="1380.5" width="155.2" height="42" fill="#cccccc"/>
<text x="827.5" y="1412.2" font-size="31.25" font-weight="bold">Key for A</text>
<text x="827" y="1460.7" font-size="31.35">Microbial treatment</text>
<rect x="828.3" y="1489.3" width="41.7" height="11.4" fill="#7f7f7f"/>
<rect x="828.3" y="1529" width="41.7" height="11.4" fill="#ca1c26"/>
<text x="891.6" y="1501.3" font-size="25">Initial</text>
<text x="891.4" y="1543.3" font-size="25">Box 1 final</text>
<text x="828" y="1620.2" font-size="31.4">Sample type</text>
<text x="1067" y="1620.2" font-size="31.25">Worms</text>
<circle cx="840" cy="1657.1" r="10.67" fill="#000"/>
<polygon points="872.1,1643.2 886.22,1667.65 857.98,1667.65" fill="#000"/>
<circle cx="841.1" cy="1698.1" r="10.45" fill="none" stroke="#000" stroke-width="2.67"/>
<polygon points="872.2,1685 885.54,1708.1 858.86,1708.1" fill="none" stroke="#000" stroke-width="2.6" stroke-linejoin="miter" stroke-miterlimit="10"/>
<text x="893.4" y="1666.3" font-size="25">Worms</text>
<text x="892.3" y="1709" font-size="25">Substrate</text>
<circle cx="1076.8" cy="1657.1" r="10.67" fill="#000"/>
<polygon points="1077.3,1685.9 1091.42,1710.35 1063.18,1710.35" fill="#000"/>
<text x="1113.2" y="1666.3" font-size="25">Initial</text>
<text x="1113" y="1709" font-size="25">Box 1 final</text>
<rect x="816.4" y="1824.6" width="155.2" height="42" fill="#cccccc"/>
<text x="827.3" y="1855.8" font-size="31.25" font-weight="bold">Key for B</text>
<polygon points="844.3,1884.2 858.5,1908.8 830.1,1908.8" fill="#ca1c26"/>
<polygon points="844.3,1929.2 858.5,1953.8 830.1,1953.8" fill="#7f7f7f"/>
<polygon points="844.3,1976.1 860.2,1992 844.3,2007.9 828.4,1992" fill="#d9d9d9"/>
<text x="892.7" y="1908.5" font-size="25.15">Box 1 final worms on Box 1 final microbes</text>
<text x="892.7" y="1953.3" font-size="25.15">Box 1 final worms on initial microbes</text>
<text x="892.5" y="1998.6" font-size="25.1">Not significant</text>
</svg>
</body></html>
